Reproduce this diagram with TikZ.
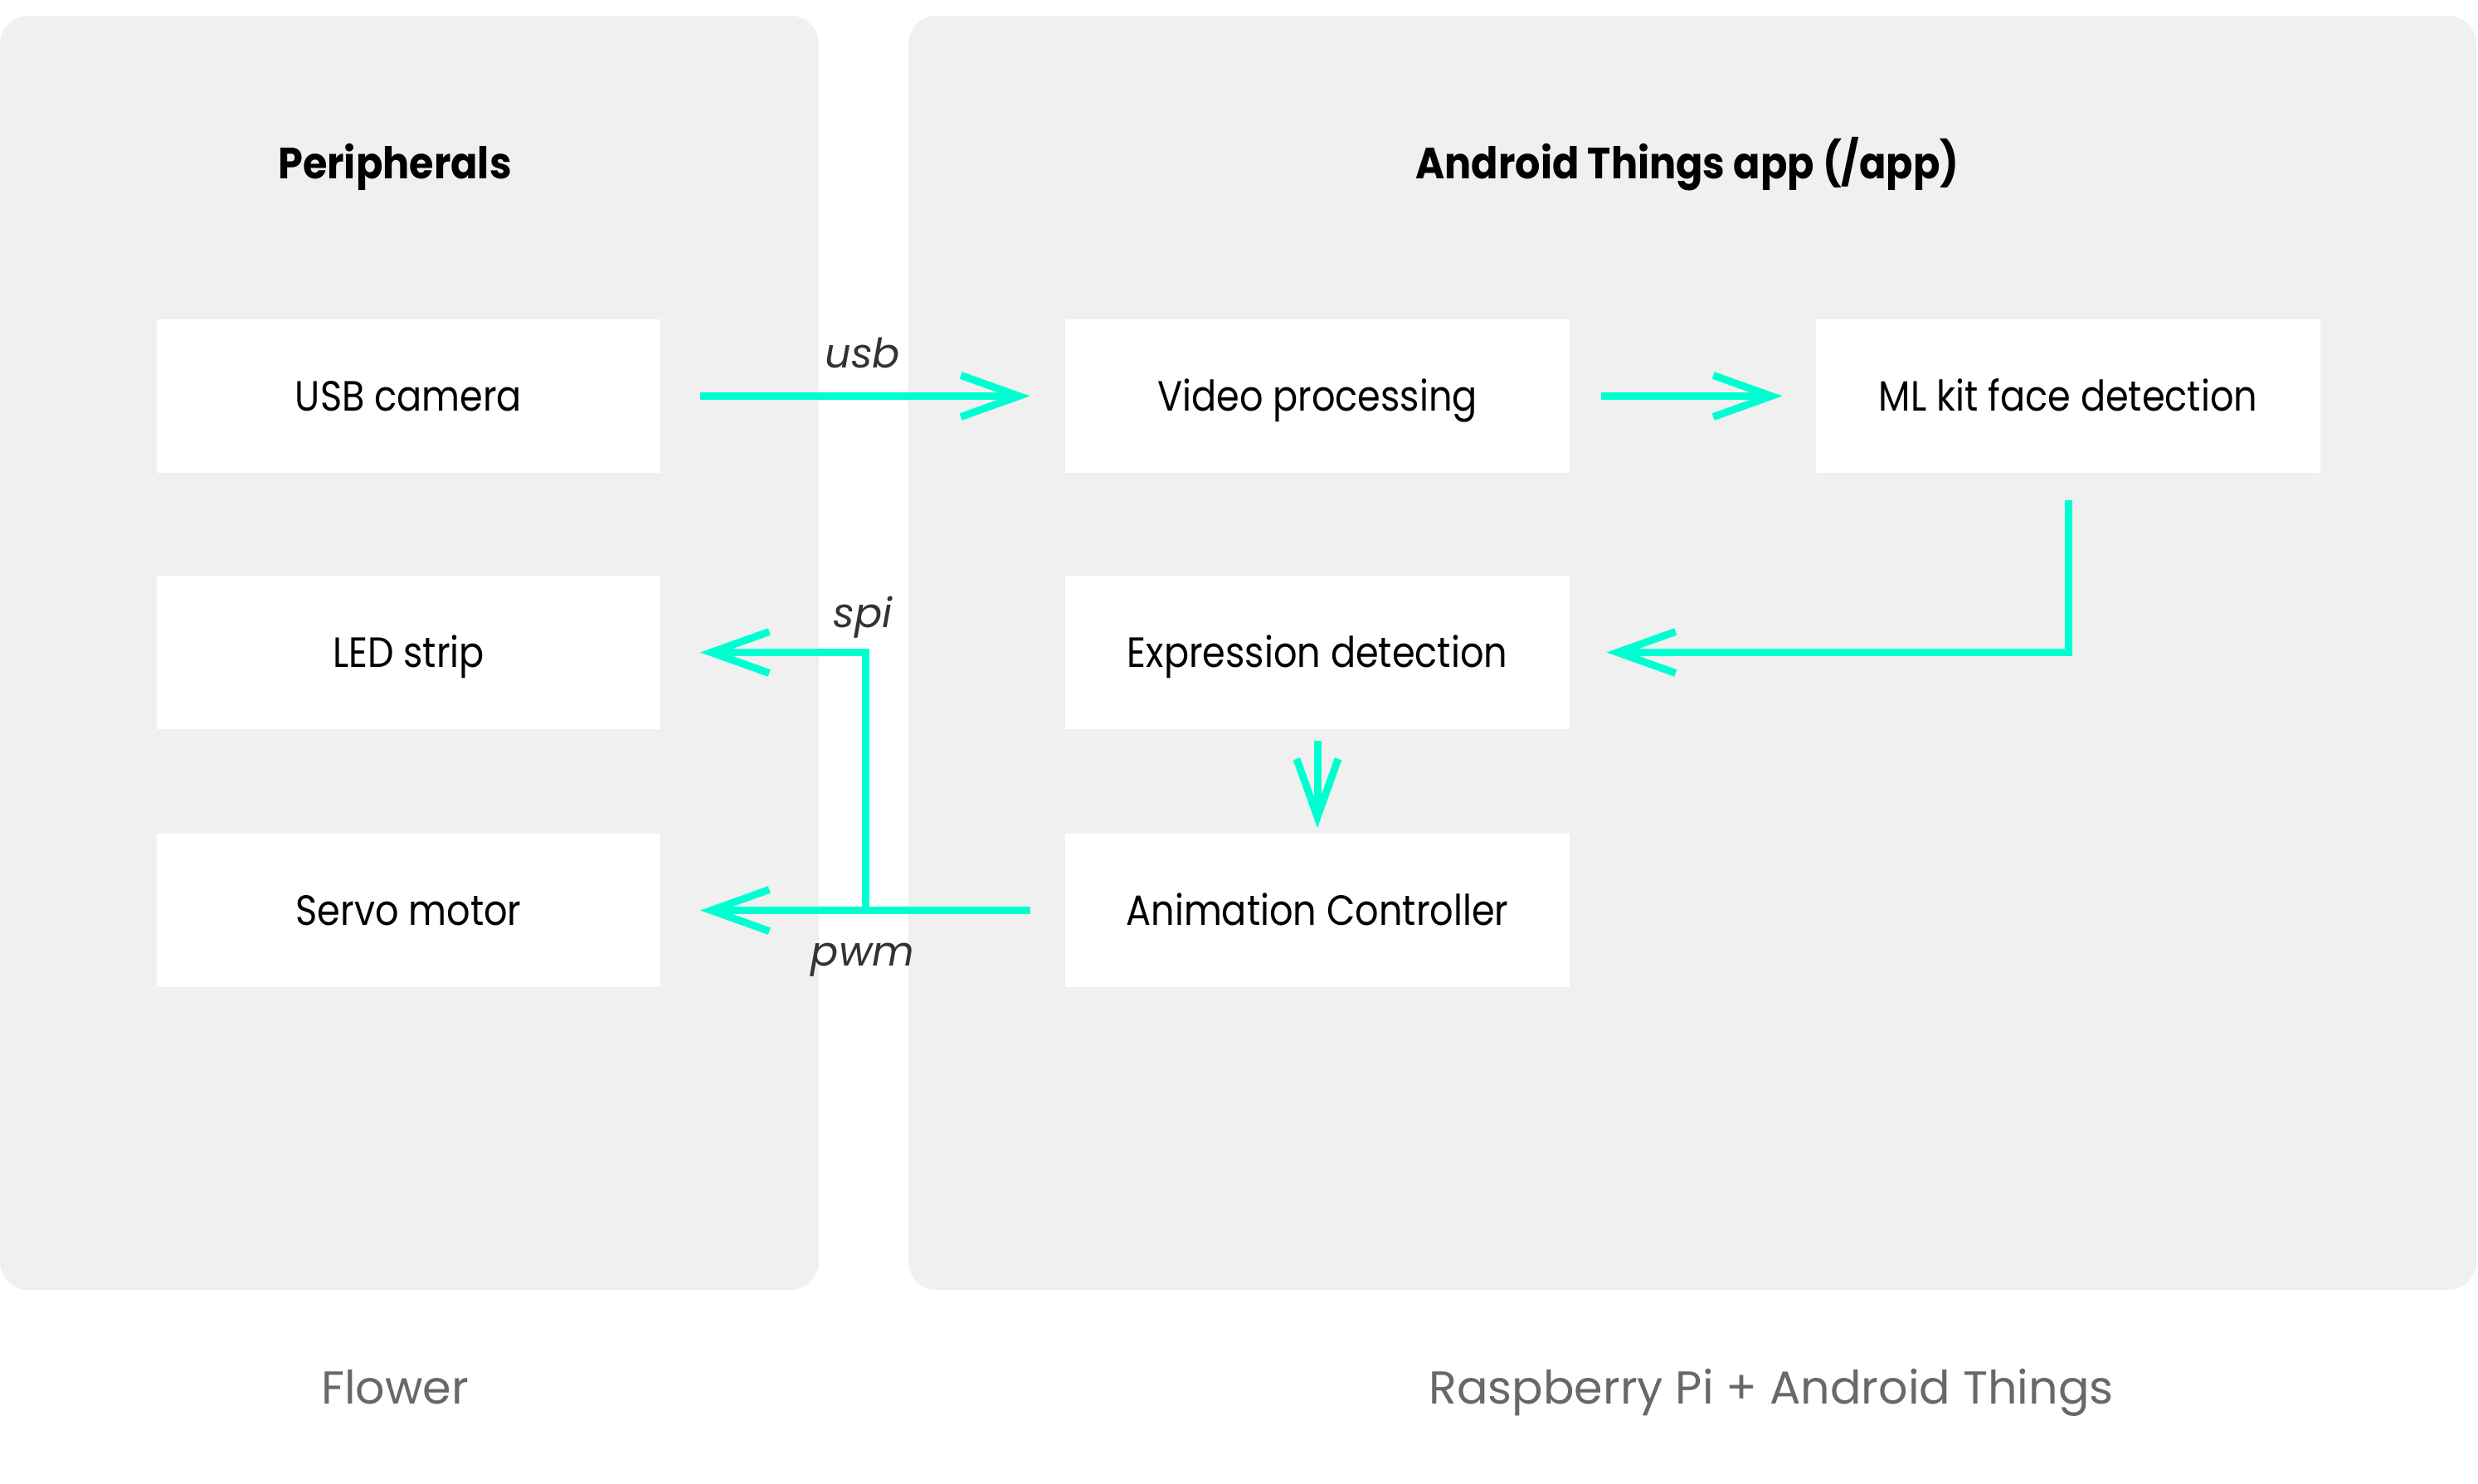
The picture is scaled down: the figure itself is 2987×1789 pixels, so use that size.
\documentclass[tikz,border=0pt]{standalone}
\usepackage{fontspec}
\setmainfont{Poppins}
\newfontfamily\boxfont[FakeStretch=0.875]{Poppins}
\newfontfamily\titlefont[FakeStretch=0.905]{Poppins}
\usetikzlibrary{arrows.meta}
\definecolor{panelgray}{RGB}{240,240,240}
\definecolor{accent}{RGB}{0,255,208}
\definecolor{capgray}{RGB}{104,104,104}
\definecolor{darktext}{RGB}{51,51,51}
\tikzset{
  panel/.style={fill=panelgray, rounded corners=0.34cm},
  box/.style={fill=white, minimum width=6.07cm, minimum height=1.85cm, inner sep=0pt,
    text height=10.1pt, text depth=0pt,
    font=\boxfont\fontsize{14.5}{17}\selectfont},
  title/.style={anchor=base, inner sep=0pt, font=\titlefont\fontsize{15}{18}\selectfont\bfseries},
  caption/.style={anchor=base, inner sep=0pt, text=capgray, font=\fontsize{15.8}{19}\selectfont},
  link/.style={anchor=base, inner sep=0pt, text=darktext, font=\fontsize{14}{17}\selectfont\itshape},
  arr/.style={draw=accent, line width=0.9mm, -{Straight Barb[length=7mm,width=5mm]}},
}
\begin{document}
\begin{tikzpicture}[x=0.01cm,y=-0.01cm]
\useasboundingbox[fill=white] (0,0) rectangle (2987,1789);
% panels
\fill[panel] (0,19) rectangle (987,1555);
\fill[panel] (1095,19) rectangle (2985,1555);
% titles
\node[title] (tperiph) at (476,216) {Peripherals};
\node[title] (tapp) at (2034,216) {Android Things app (/app)};
% captions
\node[caption] (cflower) at (476,1692) {Flower};
\node[caption] (crpi) at (2135,1692) {Raspberry Pi + Android Things};
% boxes
\node[box] (usb) at (492.5,477.5) {USB camera};
\node[box] (led) at (492.5,786.5) {LED strip};
\node[box] (servo) at (492.5,1097.5) {Servo motor};
\node[box] (vid) at (1588,477.5) {Video processing};
\node[box] (ml) at (2493,477.5) {ML kit face detection};
\node[box] (expr) at (1588,786.5) {Expression detection};
\node[box] (anim) at (1588,1097.5) {Animation Controller};
% connector coordinates
\coordinate (mlcorner) at (ml.south |- expr.east);
\coordinate (junction) at (1043,1097.5);
\coordinate (spicorner) at (junction |- led.east);
% arrows
\draw[arr] ([xshift=0.47cm]usb.east) -- ([xshift=-0.42cm]vid.west);
\draw[arr] ([xshift=0.38cm]vid.east) -- ([xshift=-0.40cm]ml.west);
\draw[arr] ([yshift=-0.32cm]ml.south) -- (mlcorner) -- ([xshift=0.44cm]expr.east);
\draw[arr] ([yshift=-0.13cm]expr.south) -- ([yshift=0.06cm]anim.north);
\draw[arr] ([xshift=-0.42cm]anim.west) -- ([xshift=0.47cm]servo.east);
\draw[arr] (junction) -- (spicorner) -- ([xshift=0.47cm]led.east);
% link labels
\node[link] (lusb) at (1040,444) {usb};
\node[link] (lspi) at (1040,757) {spi};
\node[link] (lpwm) at (1040,1165) {pwm};
\end{tikzpicture}
\end{document}
